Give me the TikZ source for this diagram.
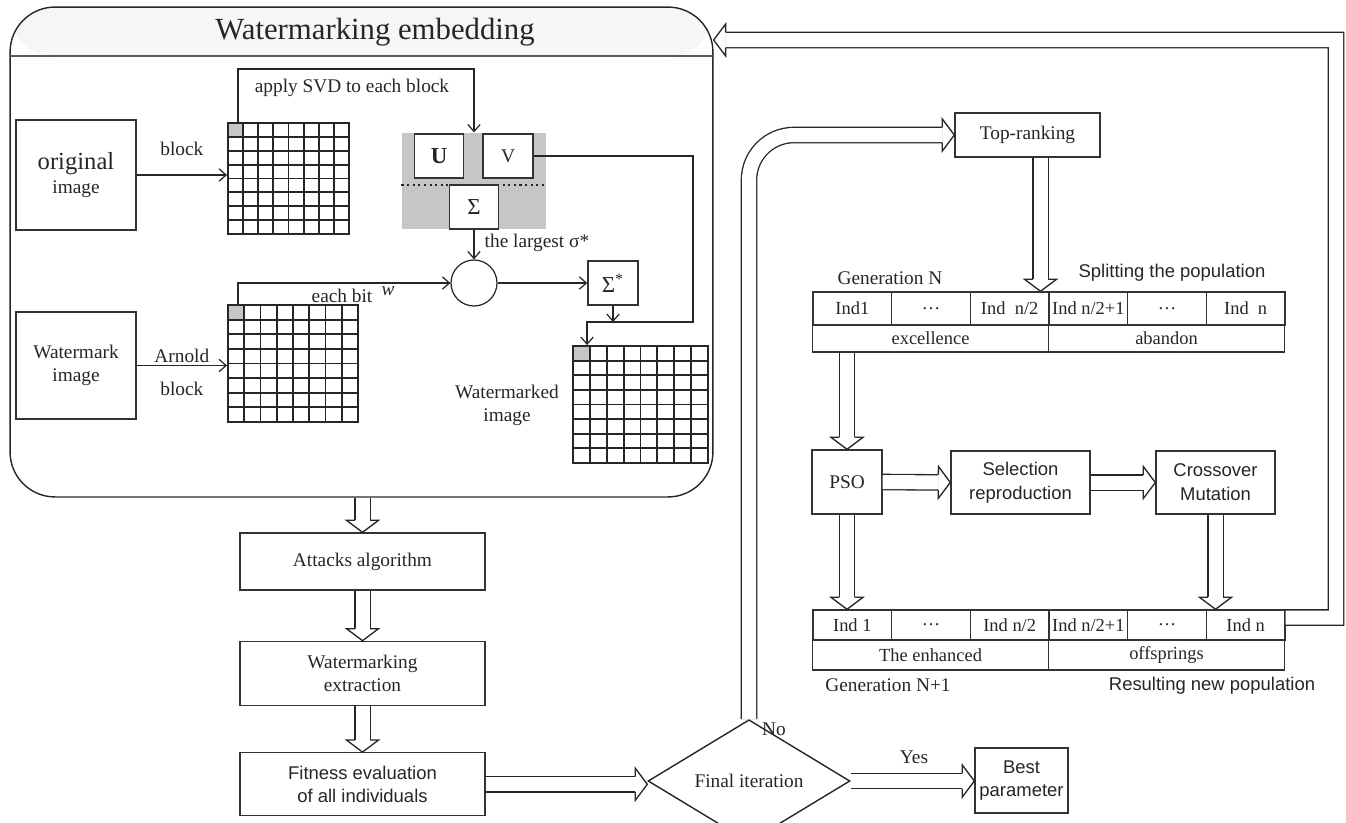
\documentclass[tikz,border=0pt]{standalone}
\usepackage{fontspec}
\setmainfont{Liberation Serif}
\setsansfont{Liberation Sans}
\usetikzlibrary{shapes,arrows.meta,positioning,calc,decorations.markings}

\tikzset{
  box/.style={draw=black!80, thick, fill=white, align=center, inner sep=2pt},
  sbox/.style={box, font=\sffamily\fontsize{10.5}{13.5}\selectfont},
  cell/.style={draw=black!80, thick, minimum width=1.573cm, inner sep=1pt, font=\fontsize{10.5}{12}\selectfont},
  blockgrid/.style={draw=black!85, line width=1.1pt, inner sep=0pt, path picture={
      \coordinate (nw) at (path picture bounding box.north west);
      \coordinate (se) at (path picture bounding box.south east);
      \fill[gray!45] (nw) rectangle ($(nw)!0.125!(se)$);
      \foreach \k in {1,...,7} {
        \draw[line width=1.1pt] ($(nw)!\k/8!(nw -| se)$) -- ($(nw |- se)!\k/8!(se)$);
        \draw[line width=1.1pt] ($(nw)!\k/8!(nw |- se)$) -- ($(nw -| se)!\k/8!(se)$);
      }}},
  hollow/.style={draw=black!85, line width=0.75pt, double=white, double distance=0.28cm,
    shorten >=0.24cm,
    postaction={decorate, decoration={markings, mark=at position 1 with {
      \filldraw[draw=black!85, fill=white, line width=0.75pt, sharp corners, shorten >=0pt, shorten <=0pt]
        (-12,7.7) -- (-12,16) -- (0,0) -- (-12,-16) -- (-12,-7.7);}}}},
  sanslbl/.style={font=\sffamily\fontsize{10.5}{12.5}\selectfont},
}

\begin{document}
\begin{tikzpicture}[x=0.02cm, y=-0.02cm, font=\fontsize{11}{13}\selectfont, line width=0.7pt, black!85,
  >={Straight Barb[length=4pt,width=7pt]}]
	\useasboundingbox (0,0) rectangle (1346,822);
	% the embedding frame
	\node[draw, thick, rounded corners=0.9cm, minimum width=14.06cm, minimum height=9.8cm,
	  path picture={\fill[gray!7] (path picture bounding box.north west) rectangle ([yshift=-1cm]path picture bounding box.north east);}] (embed) at (361.5,252) {};
	\draw[line width=1.2pt, black!65] ([yshift=-1cm]embed.north west) -- ([yshift=-1cm]embed.north east);
	\node[font=\fontsize{17.5}{20}\selectfont] (title) at (375,32) {Watermarking embedding};
	% images and blocks
	\node[box, minimum width=2.4cm, minimum height=2.2cm, font=\fontsize{11}{14}\selectfont] (orig) at (76,175) {{\fontsize{14}{16}\selectfont original}\\image};
	\node[box, minimum width=2.4cm, minimum height=2.14cm] (wmimg) at (76,365.5) {Watermark\\image};
	\node[blockgrid, minimum width=2.42cm, minimum height=2.22cm] (blk1) at (288.5,178.5) {};
	\node[blockgrid, minimum width=2.6cm, minimum height=2.34cm] (blk2) at (293,363.5) {};
	\node[blockgrid, minimum width=2.7cm, minimum height=2.34cm] (blk3) at (640.5,404.5) {};
	% SVD parts
	\node[fill=gray!45, minimum width=2.88cm, minimum height=1.92cm] (svd) at (474,181) {};
	\draw[dotted, line width=1.2pt] ([yshift=-0.08cm]svd.west) -- ([yshift=-0.08cm]svd.east);
	\node[box, minimum width=0.98cm, minimum height=0.88cm, font=\bfseries\fontsize{13}{15}\selectfont] (U) at (439,156) {U};
	\node[box, minimum width=1cm, minimum height=0.88cm] (V) at (508,156) {V};
	\node[box, minimum width=0.98cm, minimum height=0.88cm, font=\fontsize{13}{15}\selectfont] (sigma) at (474,207) {Σ};
	\node[draw, circle, minimum size=0.92cm, inner sep=0pt] (mix) at (474,283) {};
	\node[box, minimum width=1cm, minimum height=0.88cm, font=\fontsize{13}{15}\selectfont] (sigstar) at (613,283) {Σ\textsuperscript{*}};
	\coordinate (vturn) at (693,322);
	% labels
	\node (lsvd) at (352,88) {apply SVD to each block};
	\node (lsig) at (537,243) {the largest σ*};
	\node (leach) at (342,296) {each bit};
	\node (lw) at (388,291) {\textit{w}};
	\node[align=center] (lwmd) at (507,405) {Watermarked\\image};
	% connectors
	\draw[->] (orig.east) -- node[above=0.25cm] {block} (orig.east -| blk1.west);
	\draw[->] (wmimg.east) -- node[above, inner sep=1pt] {Arnold} node[below=0.2cm] {block} (wmimg.east -| blk2.west);
	\draw[->] ([xshift=0.22cm]blk1.north west) -- ++(0,-53) -| (svd.north);
	\draw[->] (sigma.south) -- (mix.north);
	\draw[->] ([xshift=0.22cm]blk2.north west) |- (mix.west);
	\draw[->] (mix.east) -- (sigstar.west);
	\draw[->] (V.east) -| (vturn) -| ([xshift=0.3cm]blk3.north west);
	\draw[->] (sigstar.south) -- (sigstar.south |- vturn);
	% evaluation chain
	\node[box, minimum width=4.9cm, minimum height=1.14cm] (attacks) at (362.5,561.5) {Attacks algorithm};
	\node[box, minimum width=4.9cm, minimum height=1.28cm, below=1cm of attacks] (extract) {Watermarking\\extraction};
	\node[sbox, minimum width=4.9cm, minimum height=1.26cm, below=0.92cm of extract] (fitness) {Fitness evaluation\\of all individuals};
	\node[draw, thick, diamond, minimum width=4.04cm, minimum height=1.72cm, inner sep=0pt] (final) at (749,781) {Final iteration};
	\node[sbox, minimum width=1.86cm, minimum height=1.3cm] (best) at (1021.5,780.5) {Best\\parameter};
	\draw[hollow] (embed.south -| attacks.north) -- (attacks.north);
	\draw[hollow] (attacks.south) -- (extract.north);
	\draw[hollow] (extract.south) -- (fitness.north);
	\draw[hollow] (fitness.east) -- (fitness.east -| final.west);
	\draw[hollow] (final.east) -- (final.east -| best.west);
	\node (lyes) at (914,757) {Yes};
	\node (lno) at (774,729) {No};
	% population part
	\node[box, minimum width=2.9cm, minimum height=0.88cm] (toprank) at (1027.5,135) {Top-ranking};
	\draw[hollow, rounded corners=0.9cm] (final.north) |- (toprank.west);
	\node (genN) at (890,278) {Generation N};
	\node[sanslbl] (split) at (1172,273) {Splitting the population};
	\foreach \t [count=\i] in {Ind1,\dots,Ind~~n/2,Ind n/2+1,\dots,Ind~~n}
	  \node[cell, minimum height=0.66cm] (gn\i) at ({813+(\i-0.5)*78.67},308.5) {\t};
	\node[cell, minimum width=4.72cm, minimum height=0.54cm] (excel) at (930.5,338.5) {excellence};
	\node[cell, minimum width=4.72cm, minimum height=0.54cm] (aband) at (1166.5,338.5) {abandon};
	\coordinate (trdown) at ([xshift=0.26cm]toprank.south);
	\draw[hollow] (trdown) -- (trdown |- gn4.north);
	\node[box, minimum width=1.4cm, minimum height=1.28cm] (pso) at (847,482) {PSO};
	\node[sbox, minimum width=2.78cm, minimum height=1.26cm] (select) at (1020.5,482.5) {Selection\\reproduction};
	\node[sbox, minimum width=2.38cm, minimum height=1.26cm] (cross) at (1215.5,482.5) {Crossover\\Mutation};
	\foreach \t [count=\i] in {Ind 1,\dots,Ind n/2,Ind n/2+1,\dots,Ind n}
	  \node[cell, minimum height=0.6cm] (gm\i) at ({813+(\i-0.5)*78.67},625) {\t};
	\node[cell, minimum width=4.72cm, minimum height=0.6cm] (enhan) at (930.5,655) {The enhanced};
	\node[cell, minimum width=4.72cm, minimum height=0.6cm] (offsp) at (1166.5,655) {offsprings};
	\node (genN1) at (888,685) {Generation N+1};
	\node[sanslbl] (result) at (1212,686) {Resulting new population};
	\draw[hollow] (pso.north |- excel.south) -- (pso.north);
	\draw[hollow] (pso.east) -- (select.west);
	\draw[hollow] (select.east) -- (cross.west);
	\draw[hollow] (pso.south) -- (pso.south |- gm1.north);
	\draw[hollow] (cross.south) -- (cross.south |- gm6.north);
	% feedback to the embedding
	\coordinate (fbbot) at (1336,617.5);
	\coordinate (fbtop) at (1336,40);
	\draw[hollow] ([yshift=0.15cm]gm6.east) -- (fbbot) -- (fbtop) [rounded corners=1cm] -- (embed.east |- fbtop);
\end{tikzpicture}
\end{document}
